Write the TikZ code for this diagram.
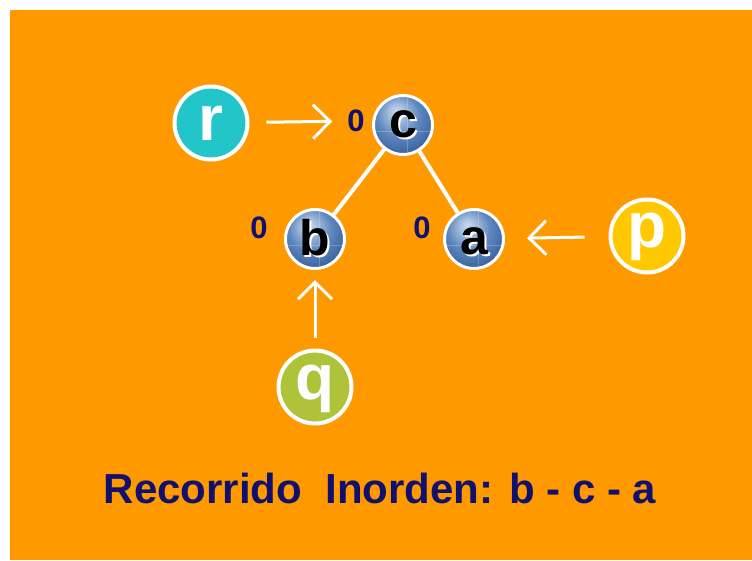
\documentclass[tikz,border=0pt]{standalone}
\usepackage{fontspec}
\setmainfont{Liberation Sans}
\usetikzlibrary{arrows.meta}
\definecolor{bg}{HTML}{FF9900}
\definecolor{navy}{HTML}{10106E}
\definecolor{teal}{HTML}{22C6C8}
\definecolor{gold}{HTML}{FFC800}
\definecolor{olive}{HTML}{AEC23A}
% glossy blue sphere for the tree nodes
\pgfdeclareradialshading{sphere}{\pgfpoint{-6bp}{12bp}}{%
  color(0bp)=(rgb,255:red,200;green,215;blue,235);
  color(6bp)=(rgb,255:red,170;green,195;blue,225);
  color(18bp)=(rgb,255:red,95;green,135;blue,190);
  color(32bp)=(rgb,255:red,55;green,95;blue,155);
  color(44bp)=(rgb,255:red,35;green,65;blue,115);
  color(60bp)=(rgb,255:red,25;green,45;blue,85)}
% black letter with a white offset shadow, as printed on the tree nodes
\newcommand{\shadowletter}[1]{\rlap{\hspace{2pt}\raisebox{-2pt}{\color{white}#1}}#1}
\tikzset{
  treeball/.style={circle, minimum size=59pt, inner sep=0pt, draw=white, line width=3pt,
    shading=sphere,
    path picture={
      \draw[white, opacity=.22, line width=.8pt]
        ([xshift=4pt]path picture bounding box.north) -- ([xshift=4pt]path picture bounding box.south)
        ([yshift=-6pt]path picture bounding box.west) -- ([yshift=-6pt]path picture bounding box.east);
    }},
  ballletter/.style={anchor=base, inner sep=0pt, text=black,
    font=\fontsize{50}{50}\selectfont\bfseries},
  pointer/.style={circle, minimum size=73pt, inner sep=0pt, draw=white, line width=4pt},
  ptrletter/.style={anchor=base, inner sep=0pt, text=white,
    font=\fontsize{64}{64}\selectfont\bfseries},
  balance/.style={text=navy, inner sep=0pt, font=\fontsize{31}{31}\selectfont\bfseries},
  branch/.style={white, line width=4pt},
  ptrarrow/.style={white, line width=3pt, -{Straight Barb[length=17pt, width=34pt, line width=3pt]}}
}
\begin{document}
\begin{tikzpicture}[x=1pt, y=-1pt]
  \useasboundingbox (0,0) rectangle (752,560);
  \fill[bg] (10,10) rectangle (752,560);

  % tree nodes
  \node[treeball] (c) at (403,125) {};
  \node[treeball] (b) at (315,239) {};
  \node[treeball] (a) at (474,239) {};
  \node[ballletter] (cl) at ([yshift=-12pt]c.center) {\shadowletter{c}};
  \node[ballletter] (bl) at ([yshift=-16pt]b.center) {\shadowletter{b}};
  \node[ballletter] (al) at ([yshift=-15pt]a.center) {\shadowletter{a}};

  % balance factors
  \node[balance] (zc) at (356,121) {0};
  \node[balance] (zb) at (259,228) {0};
  \node[balance] (za) at (422,228) {0};

  % branches
  \draw[branch] (c) -- (b);
  \draw[branch] (c) -- (a);

  % pointers
  \node[pointer, fill=teal] (r) at (211,123) {};
  \node[pointer, fill=gold] (p) at (647,236) {};
  \node[pointer, fill=olive] (q) at (315,387) {};
  \node[ptrletter] (rl) at ([yshift=-17pt]r.center) {r};
  \node[ptrletter] (pl) at ([yshift=-11pt]p.center) {p};
  \node[ptrletter] (ql) at ([yshift=-12pt]q.center) {q};

  \draw[ptrarrow, shorten <=17pt, shorten >=15pt] (r) -- (zc);
  \draw[ptrarrow, shorten <=24pt, shorten >=22pt] (p) -- (a);
  \draw[ptrarrow, shorten <=11pt, shorten >=10pt] (q) -- (b);

  % caption
  \node[text=navy, font=\fontsize{42}{42}\selectfont\bfseries] (caption) at (380,488)
    {Recorrido\ \ Inorden: b - c - a};
\end{tikzpicture}
\end{document}
